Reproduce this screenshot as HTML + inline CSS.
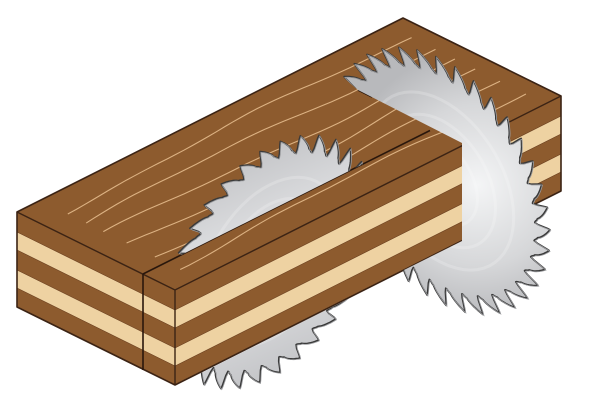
<!DOCTYPE html>
<html><head><meta charset="utf-8"><style>
html,body{margin:0;padding:0;background:#fff;width:600px;height:405px;overflow:hidden}
svg{display:block}
</style></head><body>
<svg id="s" width="600" height="405" viewBox="0 0 600 405" xmlns="http://www.w3.org/2000/svg">
<defs>
<radialGradient id="gb" gradientUnits="userSpaceOnUse" cx="478" cy="185" r="135">
<stop offset="0" stop-color="#f4f5f6"/><stop offset="0.6" stop-color="#d6d7d9"/><stop offset="1" stop-color="#b8b9bc"/></radialGradient>
<linearGradient id="gs" gradientUnits="userSpaceOnUse" x1="200" y1="150" x2="300" y2="380">
<stop offset="0" stop-color="#bdbec1"/><stop offset="0.5" stop-color="#e6e7e9"/><stop offset="1" stop-color="#c0c1c4"/></linearGradient>
<clipPath id="cs"><polygon points="100,296.5 143,274 600,45.5 600,0 100,0"/><polygon points="175,386 561,192 600,192 600,405 175,405"/></clipPath>
<clipPath id="cb"><polygon points="330,66 358,90 462,143 462,241 330,307 330,405 600,405 600,0 330,0"/></clipPath>
</defs>
<g id="board"></g>
<g id="blades"></g>
</svg>
<script>
var B='#8d5b2e',T='#eed2a2',O='#3b2314',G='#dcb283';
var P0=[17,212],P1=[403,18],P2=[561,96],P3=[175,290],H=95;
function pt(p){return p[0]+','+p[1];}
function poly(ps,f,st,sw){return '<polygon points="'+ps.map(pt).join(' ')+'" fill="'+f+'" stroke="'+(st||'none')+'" stroke-width="'+(sw||0)+'" stroke-linejoin="round"/>';}
function sh(p,d){return [p[0],p[1]+d];}
var bands=[[20,38],[58,76]];
var g='';
g+=poly([P0,P1,P2,P3],B);
for(var k=1;k<=6;k++){
 var f=k/7, s='';
 for(var i=0;i<=40;i++){
  var u=0.06+0.9*i/40;
  var w=f+0.025*Math.sin(u*6+k*1.3)+0.008*Math.sin(u*17+k);
  var x=P0[0]+(P1[0]-P0[0])*u+(P3[0]-P0[0])*w;
  var y=P0[1]+(P1[1]-P0[1])*u+(P3[1]-P0[1])*w;
  s+=(i?'L':'M')+x.toFixed(1)+','+y.toFixed(1);
 }
 g+='<path d="'+s+'" fill="none" stroke="'+G+'" stroke-width="1.1"/>';
}
g+=poly([P0,P3,sh(P3,H),sh(P0,H)],B);
bands.forEach(function(b){g+=poly([sh(P0,b[0]),sh(P3,b[0]),sh(P3,b[1]),sh(P0,b[1])],T,'#6b4020',0.6);});
g+=poly([P3,P2,sh(P2,H),sh(P3,H)],B);
bands.forEach(function(b){g+=poly([sh(P3,b[0]),sh(P2,b[0]),sh(P2,b[1]),sh(P3,b[1])],T,'#6b4020',0.6);});
g+=poly([P0,P1,P2,sh(P2,H),sh(P3,H),sh(P0,H)],'none',O,1.6);
g+='<path d="M'+pt(P0)+'L'+pt(P3)+'L'+pt(P2)+'M'+pt(P3)+'L'+pt(sh(P3,H))+'" stroke="'+O+'" stroke-width="1.4" fill="none"/>';
g+='<path d="M143,274L430,130.5M143,274L143,370M358,90L372,97" stroke="#2a170c" stroke-width="1.6" fill="none"/>';
document.getElementById('board').innerHTML=g;

function blade(cx,cy,R,Rg,N,sgn,fill,clip,rot){
 function m(r,t){return [cx+0.894*r*Math.cos(t), cy+sgn*0.447*r*Math.cos(t)-r*Math.sin(t)];}
 var s='',d=2*Math.PI/N;
 for(var i=0;i<N;i++){
  var a=rot+i*d;
  for(var j=0;j<=14;j++){
   var f=j/14,r,ang;
   if(f<0.35){r=Rg+1.5*(1-Math.cos(f/0.35*Math.PI));ang=a+f*d*0.75;}
   else {var q=(f-0.35)/0.65; r=Rg+3+(R-Rg-3)*Math.pow(q,0.8); ang=a+d*(0.2625+q*0.72);}
   var p=m(r,ang);
   s+=(s?'L':'M')+p[0].toFixed(1)+','+p[1].toFixed(1);
  }
  var q1=m(R-3,a+d*0.99); s+='L'+q1[0].toFixed(1)+','+q1[1].toFixed(1);
  var q2=m(Rg+4,a+d*0.97); s+='L'+q2[0].toFixed(1)+','+q2[1].toFixed(1);
 }
 s+='Z';
 var o='<g clip-path="url(#'+clip+')"><path d="'+s+'" fill="'+fill+'" stroke="#3a3a3a" stroke-width="1.6" stroke-linejoin="round"/>';
 o+='<path d="'+s+'" fill="none" stroke="#9a9b9e" stroke-width="0.8" transform="translate(0.8,0.8)"/>';
 for(var k=1;k<=4;k++){
  var rr=R*k/6, e='';
  for(var t=0;t<=60;t++){var p=m(rr,t/60*2*Math.PI);e+=(t?'L':'M')+p[0].toFixed(1)+','+p[1].toFixed(1);}
  o+='<path d="'+e+'Z" fill="none" stroke="#ffffff" stroke-opacity="0.2" stroke-width="3"/>';
 }
 return o+'</g>';
}
var h='';
h+=blade(270,262,116,100,32,-1,'url(#gs)','cs',0.1);
h+=blade(441,181,122,105,36,1,'url(#gb)','cb',0.05);
document.getElementById('blades').innerHTML=h;
</script>
</body></html>
